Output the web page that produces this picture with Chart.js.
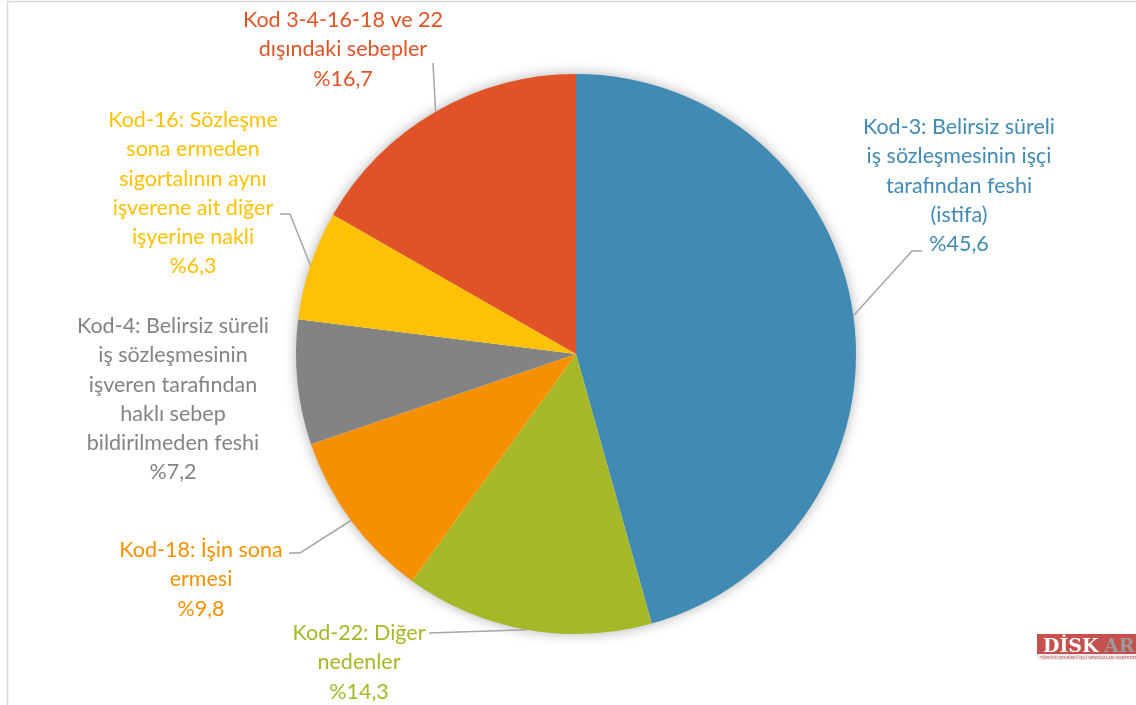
<!DOCTYPE html>
<html>
<head>
<meta charset="utf-8">
<script src="https://cdn.jsdelivr.net/npm/chart.js@4.4.1/dist/chart.umd.min.js"></script>
<style>
  html, body { margin: 0; padding: 0; background: #fff; }
  #wrap { width: 1136px; height: 705px; position: relative; }
</style>
</head>
<body>
<div id="wrap"><canvas id="pie_chart"></canvas></div>
<script>
// data
const categories = [
    'Kod-3: Belirsiz süreli iş sözleşmesinin işçi tarafından feshi (istifa)',
    'Kod-22: Diğer nedenler',
    'Kod-18: İşin sona ermesi',
    'Kod-4: Belirsiz süreli iş sözleşmesinin işveren tarafından haklı sebep bildirilmeden feshi',
    'Kod-16: Sözleşme sona ermeden sigortalının aynı işverene ait diğer işyerine nakli',
    'Kod 3-4-16-18 ve 22 dışındaki sebepler'
];
const values = [45.6, 14.3, 9.8, 7.2, 6.3, 16.7];
const colors = ['#418AB3', '#A6B727', '#F59100', '#838383', '#FEC104', '#E05327'];

// label text lines, as wrapped in the picture
const labelLines = [
    ['Kod-3: Belirsiz süreli', 'iş sözleşmesinin işçi', 'tarafından feshi', '(istifa)'],
    ['Kod-22: Diğer', 'nedenler'],
    ['Kod-18: İşin sona', 'ermesi'],
    ['Kod-4: Belirsiz süreli', 'iş sözleşmesinin', 'işveren tarafından', 'haklı sebep', 'bildirilmeden feshi'],
    ['Kod-16: Sözleşme', 'sona ermeden', 'sigortalının aynı', 'işverene ait diğer', 'işyerine nakli'],
    ['Kod 3-4-16-18 ve 22', 'dışındaki sebepler']
];

// layout of labels: centre x, first line y, and leader elbow / end (null = no leader)
const labelPos = [[959, 127], [359, 633], [201, 550], [173, 326], [193, 120], [343, 20]];
const leaderElbow = [[912, 251], [429, 633], [300, 553], null, [290, 214], [433, 63]];
const leaderEnd = [[922, 251], [429, 633], [289, 553], null, [280, 214], [433, 63]];
const lineGap = 29.3;

function fmt(v) {
    return '%' + v.toFixed(1).replace('.', ',');
}

const pieShadow = {
    id: 'pieShadow',
    beforeDatasetsDraw(chart) {
        const arc = chart.getDatasetMeta(0).data[0];
        if (!arc) return;
        const ctx = chart.ctx;
        ctx.save();
        ctx.shadowColor = 'rgba(0,0,0,0.35)';
        ctx.shadowBlur = 14;
        ctx.fillStyle = '#fff';
        ctx.beginPath();
        ctx.arc(arc.x, arc.y, arc.outerRadius - 1, 0, Math.PI * 2);
        ctx.fill();
        ctx.restore();
    }
};

const pieLabels = {
    id: 'pieLabels',
    afterDraw(chart) {
        const ctx = chart.ctx;
        const meta = chart.getDatasetMeta(0);
        ctx.save();
        // frame
        ctx.strokeStyle = '#D9D9D9';
        ctx.lineWidth = 1.5;
        ctx.beginPath();
        ctx.moveTo(7.5, 705);
        ctx.lineTo(7.5, 1.5);
        ctx.lineTo(1136, 1.5);
        ctx.stroke();

        meta.data.forEach((arc, i) => {
            const mid = (arc.startAngle + arc.endAngle) / 2;
            const sx = arc.x + Math.cos(mid) * arc.outerRadius;
            const sy = arc.y + Math.sin(mid) * arc.outerRadius;
            if (leaderElbow[i]) {
                ctx.strokeStyle = '#A6A6A6';
                ctx.lineWidth = 1.5;
                ctx.beginPath();
                ctx.moveTo(sx, sy);
                ctx.lineTo(leaderElbow[i][0], leaderElbow[i][1]);
                ctx.lineTo(leaderEnd[i][0], leaderEnd[i][1]);
                ctx.stroke();
            }
            const lines = labelLines[i].concat([fmt(values[i])]);
            ctx.fillStyle = colors[i];
            ctx.font = '21.5px Lato';
            ctx.textAlign = 'center';
            ctx.textBaseline = 'middle';
            lines.forEach((t, j) => {
                ctx.fillText(t, labelPos[i][0], labelPos[i][1] + j * lineGap);
            });
        });

        // logo in the corner
        ctx.fillStyle = '#C4514E';
        ctx.fillRect(1037, 634, 99, 20);
        ctx.fillStyle = '#EDEDED';
        ctx.fillRect(1037, 654, 99, 6);
        ctx.font = 'bold 19px "DejaVu Serif"';
        ctx.textAlign = 'left';
        ctx.textBaseline = 'alphabetic';
        ctx.fillStyle = '#fff';
        ctx.fillText('DİSK', 1043, 652);
        ctx.fillStyle = '#9A9A9A';
        ctx.fillText('AR', 1104, 652);
        ctx.font = '4px "DejaVu Sans"';
        ctx.fillStyle = '#C4514E';
        ctx.fillText('TÜRKİYE DEVRİMCİ İŞÇİ SENDİKALARI KONFEDERASYONU ARAŞTIRMA MERKEZİ', 1040, 659);
        ctx.restore();
    }
};

new Chart(document.getElementById('pie_chart'), {
    type: 'pie',
    data: {
        labels: categories,
        datasets: [{
            data: values,
            backgroundColor: colors,
            borderWidth: 0
        }]
    },
    options: {
        responsive: true,
        maintainAspectRatio: false,
        animation: false,
        layout: { padding: { left: 296, right: 280, top: 74, bottom: 71 } },
        plugins: {
            legend: { display: false },
            tooltip: { enabled: false }
        }
    },
    plugins: [pieShadow, pieLabels]
});
</script>
</body>
</html>
